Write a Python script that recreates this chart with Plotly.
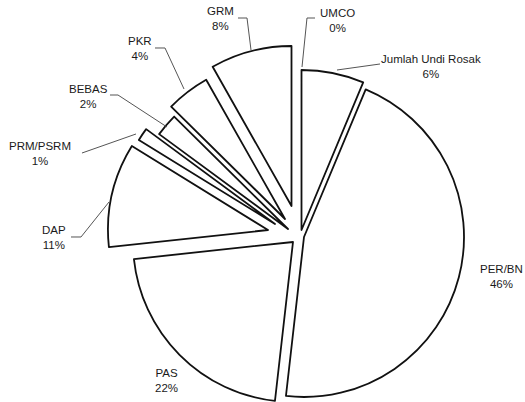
import plotly.graph_objects as go

# ---- data -------------------------------------------------------------
labels = ["Jumlah Undi Rosak", "PER/BN", "PAS", "DAP", "PRM/PSRM",
          "BEBAS", "PKR", "GRM", "UMCO"]
values = [6.3, 45.5, 21.5, 10.5, 1.3, 2.3, 4.4, 8.2, 0.0]
pct_text = ["6%", "46%", "22%", "11%", "1%", "2%", "4%", "8%", "0%"]

# ---- layout / style ---------------------------------------------------
W, H = 525, 402
R = 160  # pie radius in px
# exploded apex of each slice (px, from top-left)
apex = [(301.5, 230), (304, 237), (293, 242), (268, 230), (275, 224),
        (288, 229), (285, 219), (291.5, 206), (298, 226)]
# label centres (px)
label_pos = [(431, 67), (501, 276), (166, 380), (54, 237), (40, 154),
             (88, 96), (140, 49), (220, 19), (337, 20)]
# leader lines (px)
leaders = [
    [(380, 64), (337, 70)],
    None,
    None,
    [(71, 237), (81, 237), (109, 202)],
    [(82, 153), (136, 134)],
    [(110, 95), (118, 95), (167, 127)],
    [(155, 48), (165, 48), (184, 89)],
    [(238, 18), (247, 18), (251, 50)],
    [(315, 18), (307, 18), (302, 67)],
]


def px(x, y):
    return x / W, 1 - y / H


fig = go.Figure()
for i, (cx, cy) in enumerate(apex):
    if values[i] <= 0:
        continue
    x0, y1 = px(cx - R, cy - R)
    x1, y0 = px(cx + R, cy + R)
    dx = [max(0.0, min(1.0, v)) for v in (x0, x1)]
    dy = [max(0.0, min(1.0, v)) for v in (y0, y1)]
    fig.add_trace(go.Pie(
        labels=labels, values=values, sort=False, direction="clockwise",
        rotation=0, textinfo="none", hoverinfo="skip", showlegend=False,
        domain=dict(x=dx, y=dy),
        marker=dict(
            colors=["white" if j == i else "rgba(0,0,0,0)" for j in range(len(values))],
            line=dict(color="#111111",
                      width=[1.8 if j == i else 0 for j in range(len(values))]),
        ),
    ))

shapes = []
for pts in leaders:
    if not pts:
        continue
    path = "M " + " L ".join("{:.5f},{:.5f}".format(*px(x, y)) for x, y in pts)
    shapes.append(dict(type="path", xref="paper", yref="paper", path=path,
                       line=dict(color="#555555", width=1)))

annotations = []
for lab, pt, (x, y) in zip(labels, pct_text, label_pos):
    ax_, ay_ = px(x, y)
    annotations.append(dict(
        x=ax_, y=ay_, xref="paper", yref="paper",
        text=f"{lab}<br>{pt}", showarrow=False, align="center",
        xanchor="center", yanchor="middle",
        font=dict(family="Liberation Sans, Arial, sans-serif", size=11.5,
                  color="#1a1a1a"),
    ))

fig.update_layout(
    width=W, height=H, margin=dict(l=0, r=0, t=0, b=0),
    paper_bgcolor="white", plot_bgcolor="white",
    shapes=shapes, annotations=annotations, showlegend=False,
)
fig.write_html(
    "out.html",
    config={"displayModeBar": False},
    post_script="document.body.style.margin='0';document.body.style.overflow='hidden';",
)
